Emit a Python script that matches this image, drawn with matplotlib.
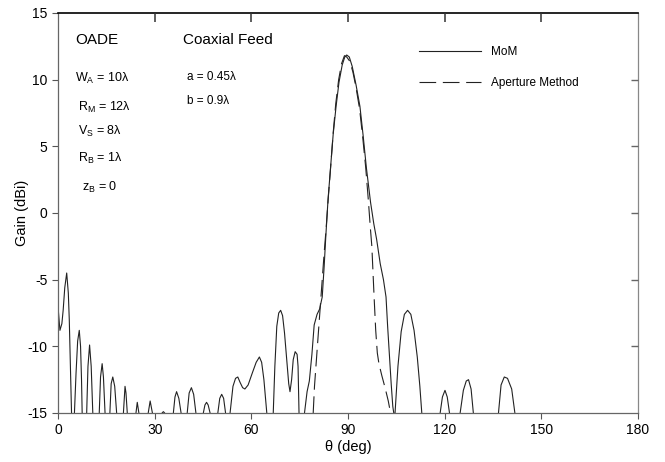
import matplotlib
matplotlib.use("Agg")
import matplotlib.pyplot as plt
import numpy as np

plt.rcParams["font.family"] = ["Liberation Sans", "DejaVu Sans"]
plt.rcParams["mathtext.fontset"] = "custom"
plt.rcParams["mathtext.rm"] = "Liberation Sans"
plt.rcParams["mathtext.it"] = "Liberation Sans"
plt.rcParams["axes.unicode_minus"] = False

# MoM gain pattern (deg, dBi); -30 marks a null below the plot floor
mom_theta = [
    0.0, 0.6, 1.2, 1.6, 2.1, 2.7, 3.2, 3.5, 3.8, 4.2,
    4.6, 5.1, 5.6, 6.1, 6.6, 7.0, 7.3, 7.5,
    8.2, 8.9, 9.3, 9.8, 10.3, 10.8,
    11.8, 12.8, 13.2, 13.7, 14.1, 14.6,
    15.3, 16.1, 16.5, 17.0, 17.6, 18.2,
    19.2, 20.3, 20.8, 21.1, 21.5,
    22.8, 24.2, 24.6, 25.1,
    26.5, 28.0, 28.6, 29.3,
    31.0, 32.3, 32.7, 33.1,
    34.5, 35.8, 36.3, 36.8, 37.5, 38.2,
    39.1, 40.1, 40.7, 41.4, 42.1, 42.8,
    44.0, 45.1, 45.6, 46.1, 46.6, 47.2,
    48.4, 49.6, 50.2, 50.8, 51.4, 52.0,
    52.7, 53.4, 54.3, 55.1, 55.8, 56.5, 57.3, 58.0, 59.0, 60.3, 61.5, 62.5, 63.2, 63.9, 64.5, 64.8,
    65.8, 66.8, 67.3, 67.9, 68.5, 69.1, 69.7, 70.3, 71.0, 71.6, 72.0, 72.5, 73.0, 73.6, 74.2, 74.5, 74.8,
    75.6, 76.5, 77.3, 78.0, 78.8, 79.5, 80.4, 81.2, 82.0, 82.6, 83.1, 83.8, 84.6, 85.4, 86.3, 87.2, 88.2,
    89.0, 89.6, 90.4, 91.3, 92.5, 93.7, 94.7, 95.7, 97.0, 98.0, 98.9, 100.0, 101.0, 101.8, 102.3, 102.8,
    103.4, 103.9, 104.2,
    104.4, 104.6, 105.5, 106.5, 107.5, 108.5, 109.5, 110.5, 111.5, 112.3, 112.9,
    115.5, 118.6, 119.3, 120.1, 120.8, 121.5,
    123.0, 124.8, 125.8, 126.7, 127.4, 128.2, 128.9,
    133.0, 136.7, 137.5, 138.5, 139.5, 140.8, 141.8,
    150.0, 180.0,
]
mom_gain = [
    -7.0, -8.8, -8.3, -7.3, -5.6, -4.5, -6.0, -8.0, -11.0, -15.0,
    -30, -15.0, -12.0, -9.6, -8.8, -10.0, -12.5, -15.0,
    -30, -15.0, -11.5, -9.9, -11.5, -15.0,
    -30, -15.0, -12.3, -11.3, -12.3, -15.0,
    -30, -15.0, -12.8, -12.3, -13.0, -15.0,
    -30, -15.0, -13.0, -13.5, -15.0,
    -30, -15.0, -14.2, -15.0,
    -30, -15.0, -14.1, -15.0,
    -30, -15.0, -14.9, -15.0,
    -30, -15.0, -13.8, -13.4, -13.9, -15.0,
    -30, -15.0, -13.5, -13.1, -13.6, -15.0,
    -30, -15.0, -14.4, -14.2, -14.4, -15.0,
    -30, -15.0, -13.9, -13.6, -13.9, -15.0,
    -30, -15.0, -13.0, -12.4, -12.3, -12.7, -13.1, -13.2, -12.9, -12.0, -11.2, -10.8, -11.2, -12.5, -14.2, -15.0,
    -30, -15.0, -11.5, -8.5, -7.5, -7.3, -7.7, -9.0, -11.0, -12.8, -13.4, -12.5, -11.0, -10.4, -10.6, -11.5, -15.0,
    -30, -15.0, -13.4, -12.6, -10.6, -8.4, -7.6, -7.2, -6.3, -4.0, -1.8, 1.0, 3.4, 5.9, 8.0, 9.8, 11.1,
    11.7, 11.85, 11.7, 11.0, 9.6, 8.0, 5.8, 3.4, 0.8, -0.8, -2.0, -3.8, -5.0, -6.3, -8.5, -10.5,
    -12.8, -14.5, -15.0,
    -30, -15.0, -11.5, -8.9, -7.6, -7.3, -7.6, -8.8, -10.8, -13.0, -15.0,
    -30, -15.0, -13.8, -13.3, -13.8, -15.0,
    -30, -15.0, -13.3, -12.6, -12.5, -13.2, -15.0,
    -30, -15.0, -12.9, -12.3, -12.4, -13.2, -15.0,
    -30, -30,
]

# Aperture method, main beam region
ap_theta = [
    79.2, 79.6, 80.2, 80.8, 81.4, 82.0, 82.6, 83.2, 83.9, 84.6, 85.4, 86.2, 87.1, 88.0,
    88.9, 89.6, 90.5, 91.5, 92.5, 93.6, 94.6, 95.5, 96.3, 96.9, 97.4, 98.1, 98.6, 99.1,
    99.6, 100.5, 101.5, 102.5, 103.2, 103.5,
]
ap_gain = [
    -15.0, -13.0, -11.0, -9.0, -7.0, -5.0, -3.0, -1.2, 1.2, 3.4, 6.0, 8.2, 10.0, 11.2,
    11.8, 11.7, 11.4, 10.6, 9.4, 7.8, 5.6, 3.4, 1.0, -1.0, -2.5, -6.3, -8.8, -10.5,
    -11.3, -12.2, -13.1, -14.1, -15.0, -30,
]

x_ticks = np.arange(0, 181, 30)
y_ticks = np.arange(-15, 16, 5)

fig = plt.figure(figsize=(6.65, 4.62), dpi=100)
ax = fig.add_axes([58 / 665, 49 / 462, 580 / 665, 400 / 462])

ax.plot(mom_theta, mom_gain, color="#222222", lw=0.8, label="MoM")
ax.plot(ap_theta, ap_gain, color="#222222", lw=0.8, dashes=(15, 6), label="Aperture Method")

ax.set_xlim(0, 180)
ax.set_ylim(-15, 15)
ax.set_xticks(x_ticks)
ax.set_yticks(y_ticks)
ax.tick_params(axis="both", direction="out", labelsize=10, length=4, width=0.8, color="#555555")

# inward ticks along the top and right frame
ax.vlines(x_ticks[1:-1], 0.977, 1.0, transform=ax.get_xaxis_transform(),
          color="#333333", lw=1.1, clip_on=False, zorder=5)
ax.hlines(y_ticks[1:-1], 1 - 7 / 580, 1, transform=ax.get_yaxis_transform(),
          color="#666666", lw=1.0, clip_on=False, zorder=5)

for side in ["left", "bottom"]:
    ax.spines[side].set_color("#666666")
    ax.spines[side].set_linewidth(0.9)
ax.spines["top"].set_linewidth(1.2)
ax.spines["right"].set_color("#888888")
ax.spines["right"].set_linewidth(0.9)

ax.set_xlabel("θ (deg)", fontsize=10.5, labelpad=2)
ax.set_ylabel("Gain (dBi)", fontsize=10.5, labelpad=-1)

ax.text(5.3, 12.95, "OADE", fontsize=11, va="center")
ax.text(38.8, 12.95, "Coaxial Feed", fontsize=11, va="center")
ax.text(5.3, 10.1, r"W$_\mathrm{A}$ = 10λ", fontsize=9, va="center")
ax.text(6.2, 7.9, r"R$_\mathrm{M}$ = 12λ", fontsize=9, va="center")
ax.text(6.2, 6.1, r"V$_\mathrm{S}$ = 8λ", fontsize=9, va="center")
ax.text(6.2, 4.1, r"R$_\mathrm{B}$ = 1λ", fontsize=9, va="center")
ax.text(7.4, 1.9, r"z$_\mathrm{B}$ = 0", fontsize=9, va="center")
ax.text(40.0, 10.2, "a = 0.45λ", fontsize=8.5, va="center")
ax.text(40.0, 8.4, "b = 0.9λ", fontsize=8.5, va="center")

ax.legend(loc="upper left", bbox_to_anchor=(0.622, 0.918), frameon=False,
          fontsize=8.5, handlelength=5.3, handletextpad=0.8, labelspacing=1.6,
          borderpad=0, borderaxespad=0)

fig.savefig("out.png", dpi=100)
